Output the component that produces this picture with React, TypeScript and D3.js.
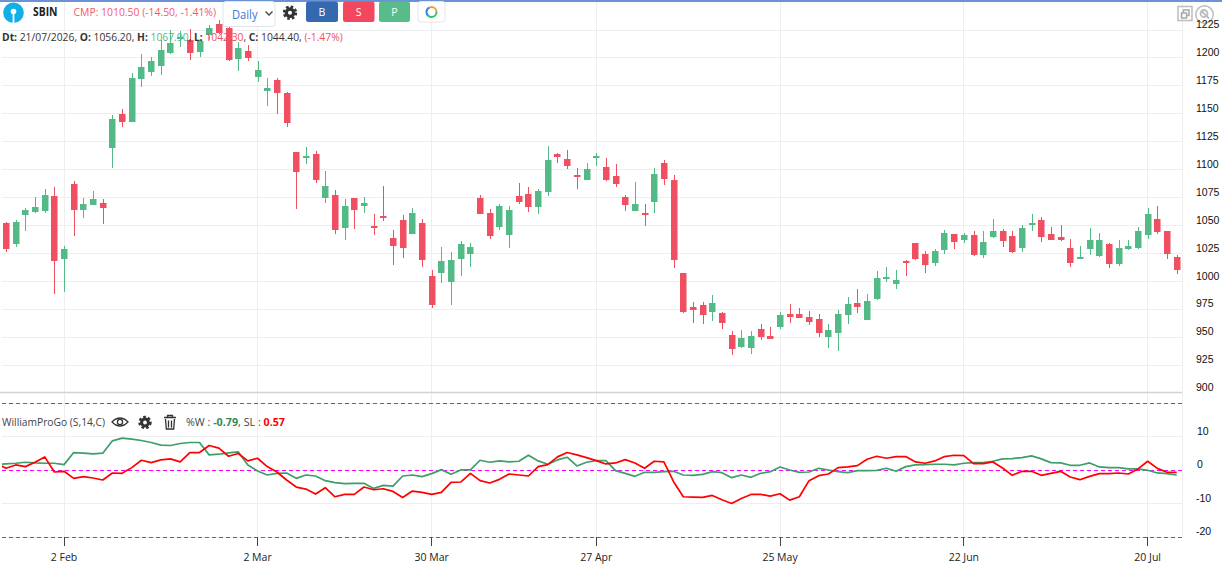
import * as d3 from "d3";

/* ------------------------------------------------------------------ */
/*  Data                                          */
/* ------------------------------------------------------------------ */

const opens = [
  1052.1, 1033.3, 1059.2, 1061.9, 1062.8, 1076.2, 1019.9, 1086.9, 1063.7, 1068.1, 1069.9, 1119, 1150.3, 1143.1, 1181.5, 1187.8, 1193.2, 1204.8, 1217.3, 1216.4,
  1205.7, 1220.8, 1230.7, 1227.1, 1199.4, 1206.6, 1183.3, 1170.8, 1180.7, 1168.2, 1115.5, 1110.1, 1113.7, 1074.4, 1077.1, 1047.6, 1074.4, 1067.2, 1049.4, 1058.3,
  1038.7, 1054.7, 1042.2, 1052.1, 1004.7, 1007.4, 999.4, 1019.9, 1024.4, 1074.4, 1061, 1048.5, 1041.4, 1076.2, 1078, 1066.3, 1079.7, 1113.7, 1109.2, 1094.9,
  1090.5, 1111, 1102.1, 1094, 1075.3, 1062.8, 1061, 1070.8, 1105.6, 1090.5, 1007.4, 977, 978.8, 972.6, 971.7, 952, 941.3, 940.4, 957.4, 951.2,
  959.2, 970.8, 970.8, 968.1, 966.3, 950.3, 953.8, 969.9, 980.6, 965.4, 984.2, 1002.1, 997.6, 1018.1, 1034.2, 1024.4, 1016.3, 1028, 1042.2, 1036.9,
  1041.4, 1023.5, 1039.6, 1044.9, 1040.5, 1029.7, 1050.3, 1054.7, 1042.2, 1039.6, 1029.7, 1019.9, 1028.9, 1022.6, 1033.3, 1015.4, 1028.9, 1029.7, 1041.4, 1056.2,
  1044.9, 1021.7,
];

const highs = [
  1052.9, 1054.7, 1065.5, 1075.3, 1082.4, 1084.2, 1031.5, 1089.6, 1074.4, 1080.6, 1073.5, 1149.4, 1153.9, 1186.9, 1203.9, 1201.2, 1216.4, 1225.3, 1224.4, 1226.2,
  1217.3, 1229.8, 1234.2, 1231.6, 1214.6, 1211.9, 1197.6, 1182.4, 1182.4, 1169.1, 1115.5, 1119.9, 1116.4, 1098.5, 1081.5, 1073.5, 1074.4, 1075.3, 1060.1, 1085.1,
  1045.8, 1059.2, 1065.5, 1055.6, 1010.1, 1030.6, 1026.2, 1036, 1034.2, 1077.1, 1064.6, 1069, 1067.2, 1087.8, 1084.2, 1082.4, 1120.8, 1114.6, 1117.3, 1101.2,
  1105.6, 1114.6, 1110.1, 1104.7, 1077.1, 1088.7, 1069, 1101.2, 1108.3, 1094.9, 1007.4, 981.5, 981.5, 987.8, 972.6, 955.6, 956.5, 955.6, 961.9, 959.2,
  972.6, 979.7, 976.2, 973.5, 970.8, 961.9, 974.4, 986, 993.1, 988.7, 1009.2, 1012.8, 1010.1, 1019, 1034.2, 1027.1, 1028.9, 1045.8, 1042.2, 1043.1,
  1044.9, 1044.9, 1055.6, 1046.7, 1044.9, 1050.3, 1060.1, 1057.4, 1048.5, 1050.3, 1037.8, 1031.5, 1047.6, 1043.1, 1034.2, 1036.9, 1036.9, 1048.5, 1065.5, 1067.9,
  1044.9, 1023.5,
];

const lows = [
  1026.2, 1030.6, 1044.9, 1061, 1061, 988.7, 990.4, 1040.5, 1056.5, 1068.1, 1051.2, 1101.2, 1137.8, 1142.3, 1174.4, 1184.2, 1185.1, 1203.9, 1210.1, 1198.5,
  1201.2, 1216.4, 1221.7, 1197.6, 1188.7, 1197.6, 1178.9, 1157.4, 1150.3, 1137.8, 1064.6, 1104.7, 1087.8, 1069.9, 1042.2, 1036.9, 1046.7, 1061, 1041.4, 1053.8,
  1014.6, 1020.8, 1042.2, 1012.8, 976.2, 998.5, 978.8, 1004.7, 1012.8, 1060.1, 1037.8, 1045.8, 1029.7, 1069, 1061.9, 1060.1, 1076.2, 1105.6, 1100.3, 1082.4,
  1090.5, 1103, 1089.6, 1084.2, 1062.8, 1062.8, 1049.4, 1061, 1086, 1011.9, 971.7, 962.8, 961.9, 964.5, 957.4, 934.2, 940.4, 935.1, 947.6, 948.5,
  957.4, 962.8, 967.2, 961, 950.3, 940.4, 937.8, 961.9, 971.7, 965.4, 983.3, 999.4, 993.1, 1004.7, 1019, 1007.4, 1013.7, 1024.4, 1028.9, 1034.2,
  1022.6, 1020.8, 1038.7, 1030.6, 1025.3, 1026.2, 1044.9, 1035.1, 1036.9, 1036, 1012.8, 1019.9, 1023.5, 1021.7, 1011.9, 1013.7, 1028, 1028.9, 1037.8, 1042.3,
  1019.9, 1006.5,
];

const closes = [
  1028.9, 1052.9, 1063.7, 1066.3, 1077.1, 1018.1, 1028.9, 1063.7, 1069, 1073.5, 1065.5, 1145.8, 1143.1, 1182.4, 1192.3, 1197.6, 1207.4, 1213.7, 1219, 1204.8,
  1215.5, 1227.1, 1222.6, 1198.5, 1209.2, 1200.3, 1189.6, 1173.5, 1168.2, 1141.4, 1097.6, 1111.9, 1090.5, 1085.1, 1045.8, 1067.2, 1063.7, 1069.9, 1048.5, 1057.4,
  1031.5, 1029.7, 1061, 1019, 978.8, 1018.1, 1019, 1033.3, 1030.6, 1060.1, 1040.5, 1067.2, 1063.7, 1070.8, 1066.3, 1080.6, 1108.3, 1111, 1103, 1094,
  1100.3, 1111.9, 1090.5, 1086.9, 1068.1, 1069, 1059.2, 1095.8, 1091.4, 1019, 972.6, 974.4, 969.9, 980.6, 962.8, 939.5, 949.4, 951.2, 950.3, 948.5,
  969.9, 968.1, 967.2, 963.7, 953.8, 956.5, 970.8, 979.7, 977, 982.4, 1003, 1003.8, 1001.2, 1016.3, 1019.9, 1014.6, 1027.1, 1043.1, 1035.1, 1041.4,
  1023.5, 1035.1, 1044.9, 1036, 1026.2, 1047.6, 1052.1, 1039.6, 1036.9, 1036.9, 1016.3, 1021.7, 1036.9, 1036.9, 1015.4, 1029.7, 1031.5, 1044.9, 1060, 1044.4,
  1025, 1010.5,
];

// first value sits one bar left of the visible range, the pane clips it
const williamsR = [
  1.7, 1.9, 2.1, 2.4, 2.2, 2.1, 2.1, 1.7, 5.3, 5.1, 4.9, 5.1, 8.8, 9.6, 9.3, 8.9, 8.3, 7.5, 7.4, 8, 8.3,
  8.3, 4.6, 4.8, 5.2, 5.5, 1.6, -0.2, -1.4, -0.9, -0.8, -2.4, -1.4, -1.7, -3.1, -3.7, -4, -3.9, -3.9, -5.4, -4.5,
  -4.7, -1.7, -1.4, -1.9, -1, 0.2, -1.2, 0.1, 0.1, 3, 2.4, 2.8, 2.5, 2.7, 4.5, 2.8, 1.8, 3.1, 3.9, 1.3,
  2.4, 2.9, 2.9, -0.1, -0.9, -1.8, -0.6, -0.6, -0.4, -0.3, -1.4, -1.5, -1.2, -0.4, -0.7, -2.2, -1.4, -2.1, -0.9, -0.4,
  1, 0.1, -0.6, -0.5, 0.6, 0.1, -0.4, -0.7, -0.1, -0.1, 0, 0.6, -0.3, 1.1, 1.6, 1.7, 1.8, 1.8, 1.6, 2.1,
  2.3, 2.3, 2.7, 3.4, 3.5, 3.8, 4.3, 3.4, 2.3, 2.2, 1.5, 1.5, 2.2, 1, 0.8, 0.8, 0.4, 0.4, 0, -0.79,
  -1, -1.4,
];

const signalLine = [
  2.1, 0.6, 1.6, 1.1, 2.4, 4, -0.5, -0.3, -2.4, -1.9, -2.3, -2.9, -0.8, -0.9, 0.8, 3, 2.3, 3.1, 3.4, 2.5, 5.3,
  5.3, 7.4, 6.6, 4.2, 5, 2.8, 3.6, 1.1, -0.5, -2.9, -5, -5.6, -7.1, -5.2, -7.9, -7.2, -7.2, -5, -5.8, -5.5,
  -6.3, -8.1, -6.2, -6.6, -7.2, -6.6, -3.6, -3.5, -0.9, -3.1, -3.8, -2.7, -1.1, -1.4, -1.7, 1.1, 1.7, 4, 5.3, 4.6,
  3.8, 2.9, 1.9, 2.2, 3.2, 2.2, 0.6, 2.7, 2.5, -3.4, -7.9, -8, -8.1, -7.5, -8.8, -9.9, -8.4, -7.2, -7.2, -7.7,
  -7, -8.9, -7.9, -3.1, -1.6, -1.1, 0.8, 1, 1.4, 3.3, 4.2, 3.6, 4.1, 4.1, 2.5, 2.1, 2.8, 4.1, 4.5, 4.4,
  2, 2, 2.5, 0.7, -1.5, -0.3, -0.3, -1.5, -0.9, -0.3, -2, -2.8, -1.8, -1, -1, -0.8, -1.1, 0.4, 2.7, 0.57,
  -0.6, -0.6,
];

const priceTicks = [900, 925, 950, 975, 1000, 1025, 1050, 1075, 1100, 1125, 1150, 1175, 1200, 1225];
const oscTicks = [10, 0, -10, -20];
const oscGrid = [20, 10, 0, -10, -20];
const oscLevels = [20, 0, -20];
const dateTickBars = [6, 26, 44, 61, 80, 99, 118];
const dateTickLabels = ["2 Feb", "2 Mar", "30 Mar", "27 Apr", "25 May", "22 Jun", "20 Jul"];

/* ------------------------------------------------------------------ */
/*  Theme tokens                                                       */
/* ------------------------------------------------------------------ */

const W = 1222;
const H = 570;
const RIGHT = 1182;
const GRID = "#eeeeee";
const UP = "#53b987";
const DOWN = "#ef4f60";
const W_LINE = "#3d9e6c";
const SL_LINE = "#ff0000";
const LEVEL = "#ff00ff";
const UI_FONT = "'Open Sans', 'Noto Sans', sans-serif";
const AXIS_FONT = "'Liberation Sans', Arial, sans-serif";

const x = d3.scaleLinear().domain([0, 121]).range([6, 1176.7]);
const yPrice = d3.scaleLinear().domain([900, 1225]).range([393.3, 30]);
const yOsc = d3.scaleLinear().domain([-20, 20]).range([537.3, 403.3]);

const oscPath = d3
  .line<number>()
  .x((_, i) => x(i - 1))
  .y((d) => yOsc(d));

function Gear({ cx, cy, r }: { cx: number; cy: number; r: number }) {
  return (
    <g>
      <circle cx={cx} cy={cy} r={r} fill="none" stroke="#333" strokeWidth={2.4} strokeDasharray="2.6 2.1" />
      <circle cx={cx} cy={cy} r={r * 0.62} fill="none" stroke="#333" strokeWidth={r * 0.55} />
    </g>
  );
}

export default function App() {
  return (
    <svg
      width={W}
      height={H}
      viewBox={`0 0 ${W} ${H}`}
      style={{ position: "absolute", left: 0, top: 0, background: "#fff", display: "block" }}
    >
      <defs>
        <clipPath id="pane">
          <rect x={2} y={395} width={RIGHT - 2} height={145} />
        </clipPath>
      </defs>

      {/* Grid */}
      {priceTicks.slice(1).map((t) => (
        <line key={t} x1={2} x2={RIGHT} y1={yPrice(t)} y2={yPrice(t)} stroke={GRID} shapeRendering="crispEdges" />
      ))}
      {oscGrid.map((t) => (
        <line key={t} x1={2} x2={RIGHT} y1={yOsc(t)} y2={yOsc(t)} stroke={GRID} shapeRendering="crispEdges" />
      ))}
      {dateTickBars.map((b) => (
        <line key={b} x1={x(b)} x2={x(b)} y1={2} y2={537} stroke={GRID} shapeRendering="crispEdges" />
      ))}
      <line x1={RIGHT} x2={RIGHT} y1={2} y2={537} stroke={GRID} shapeRendering="crispEdges" />
      <line x1={0} x2={RIGHT} y1={392.5} y2={392.5} stroke="#d2d2d2" strokeWidth={1.6} />
      <line x1={0} x2={W} y1={1} y2={1} stroke="#3a6fc4" strokeWidth={1.5} />

      {/* Candles */}
      {opens.map((o, i) => {
        const c = closes[i];
        const color = c >= o ? UP : DOWN;
        const top = Math.round(yPrice(Math.max(o, c)));
        const bottom = Math.round(yPrice(Math.min(o, c)));
        const cx = x(i);
        return (
          <g key={i} fill={color}>
            <rect x={Math.round(cx)} y={yPrice(highs[i])} width={1} height={yPrice(lows[i]) - yPrice(highs[i])} shapeRendering="crispEdges" />
            <rect x={Math.round(cx) - 3} y={top} width={6.5} height={Math.max(bottom - top, 2)} />
          </g>
        );
      })}

      {/* Oscillator */}
      {oscLevels.map((t) => (
        <line key={t} x1={2} x2={RIGHT} y1={yOsc(t)} y2={yOsc(t)} stroke={LEVEL} strokeDasharray="4 3" shapeRendering="crispEdges" />
      ))}
      <g clipPath="url(#pane)" fill="none" strokeLinejoin="round">
        <path d={oscPath(williamsR) ?? ""} stroke={W_LINE} strokeWidth={1.7} />
        <path d={oscPath(signalLine) ?? ""} stroke={SL_LINE} strokeWidth={1.7} />
      </g>

      {/* Date axis */}
      <g fontFamily={UI_FONT} fontSize={10.5} fill="#222">
        {dateTickBars.map((b, i) => (
          <g key={b}>
            <line x1={x(b)} x2={x(b)} y1={537} y2={546} stroke="#444" shapeRendering="crispEdges" />
            <text x={x(b)} y={560.5} textAnchor="middle">
              {dateTickLabels[i]}
            </text>
          </g>
        ))}
      </g>

      {/* Header */}
      <circle cx={13.5} cy={12.7} r={10.3} fill="#12aee8" />
      <circle cx={13.5} cy={11.5} r={2.8} fill="#fff" />
      <rect x={12.6} y={12} width={1.8} height={11} fill="#fff" />
      <g fontFamily={UI_FONT} fontSize={11.5}>
        <text x={33} y={16} fontWeight={700} fill="#222" textLength={24.5} lengthAdjust="spacingAndGlyphs">SBIN</text>
        <text x={73.5} y={16} fill="#f0596f" textLength={142.5} lengthAdjust="spacingAndGlyphs">CMP: 1010.50 (-14.50, -1.41%)</text>
      </g>
      <rect x={223} y={1.5} width={52} height={25} rx={3} fill="#fff" stroke="#dfe3ee" />
      <text x={232} y={19} fontFamily={UI_FONT} fontSize={12} fill="#3a78d6" textLength={25.5} lengthAdjust="spacingAndGlyphs">Daily</text>
      <path d="M265.5 11.5 l3.5 3.5 l3.5 -3.5" fill="none" stroke="#444" strokeWidth={1.4} />
      <Gear cx={290} cy={12.7} r={6} />
      {[
        { label: "B", left: 306, right: 338, fill: "#3469b0" },
        { label: "S", left: 343, right: 374.5, fill: "#f3475d" },
        { label: "P", left: 379, right: 410, fill: "#57bb8a" },
      ].map((b) => (
        <g key={b.label}>
          <rect x={b.left} y={1.5} width={b.right - b.left} height={20.5} rx={2.5} fill={b.fill} />
          <text x={(b.left + b.right) / 2} y={16} textAnchor="middle" fontFamily={UI_FONT} fontSize={10.5} fill="#fff">
            {b.label}
          </text>
        </g>
      ))}
      <rect x={418} y={1.5} width={27} height={20.5} rx={2.5} fill="#fff" stroke="#e6e6e6" />
      <circle cx={431.5} cy={12} r={5} fill="none" stroke="#2fc46b" strokeWidth={2} strokeDasharray="11 20.4" />
      <circle cx={431.5} cy={12} r={5} fill="none" stroke="#2a8be0" strokeWidth={2} strokeDasharray="10 21.4" strokeDashoffset={-11} />
      <circle cx={431.5} cy={12} r={5} fill="none" stroke="#f0a030" strokeWidth={2} strokeDasharray="10.4 21" strokeDashoffset={-21} />

      <text x={2} y={41} fontFamily={UI_FONT} fontSize={11.2} fill="#333" textLength={340.7} lengthAdjust="spacingAndGlyphs">
        <tspan fontWeight={700}>Dt:</tspan>
        {" 21/07/2026, "}
        <tspan fontWeight={700}>O:</tspan>
        {" 1056.20, "}
        <tspan fontWeight={700}>H:</tspan>
        <tspan fill={UP}>{" 1067.90"}</tspan>
        {", "}
        <tspan fontWeight={700}>L:</tspan>
        <tspan fill={DOWN}>{" 1042.30"}</tspan>
        {", "}
        <tspan fontWeight={700}>C:</tspan>
        {" 1044.40, "}
        <tspan fill={DOWN}>(-1.47%)</tspan>
      </text>

      {/* Window icons */}
      <g fill="none" stroke="#bdbdbd" strokeWidth={1.5}>
        <rect x={1178} y={6.5} width={14} height={14} />
        <rect x={1181.5} y={13} width={5} height={5} stroke="#a8a8a8" />
        <path d="M1183.5 13 V10 H1189 V15.5 H1186.5" stroke="#a8a8a8" />
        <circle cx={1204.5} cy={14.5} r={8.7} fill="#fff" fillOpacity={0.6} />
        <circle cx={1204} cy={13.5} r={3.5} strokeWidth={1.8} />
        <path d="M1201 10.5 L1209 18.5" strokeWidth={1.8} />
      </g>

      {/* Value axes */}
      <g fontFamily={AXIS_FONT} fontSize={10.5} fill="#111">
        {priceTicks.map((t) => (
          <text key={t} x={1196} y={yPrice(t) - 2}>
            {t}
          </text>
        ))}
        {oscTicks.map((t) => (
          <text key={t} x={t === 10 || t === 0 ? 1197 : 1196} y={yOsc(t) - 2}>
            {t}
          </text>
        ))}
      </g>

      {/* Indicator header */}
      <g fontFamily={UI_FONT} fontSize={10.8} fill="#444">
        <text x={2} y={426} textLength={103} lengthAdjust="spacingAndGlyphs">WilliamProGo (S,14,C)</text>
        <text x={186} y={426} textLength={99} lengthAdjust="spacingAndGlyphs">
          {"%W : "}
          <tspan fontWeight={700} fill="#2e8b57">-0.79</tspan>
          {", SL : "}
          <tspan fontWeight={700} fill="#ff0000">0.57</tspan>
        </text>
      </g>
      <path d="M112 422 Q120 414 128 422 Q120 430 112 422 Z" fill="none" stroke="#333" strokeWidth={1.3} />
      <circle cx={120} cy={422} r={2.6} fill="none" stroke="#333" strokeWidth={1.3} />
      <Gear cx={145} cy={422.5} r={5.5} />
      <g fill="none" stroke="#333" strokeWidth={1.3}>
        <path d="M164 417.5 H176 M167.5 417.5 V415.5 H172.5 V417.5 M165.5 419 L166.3 429 H173.7 L174.5 419 M168.5 420.5 V427.5 M171.5 420.5 V427.5" />
      </g>
    </svg>
  );
}
